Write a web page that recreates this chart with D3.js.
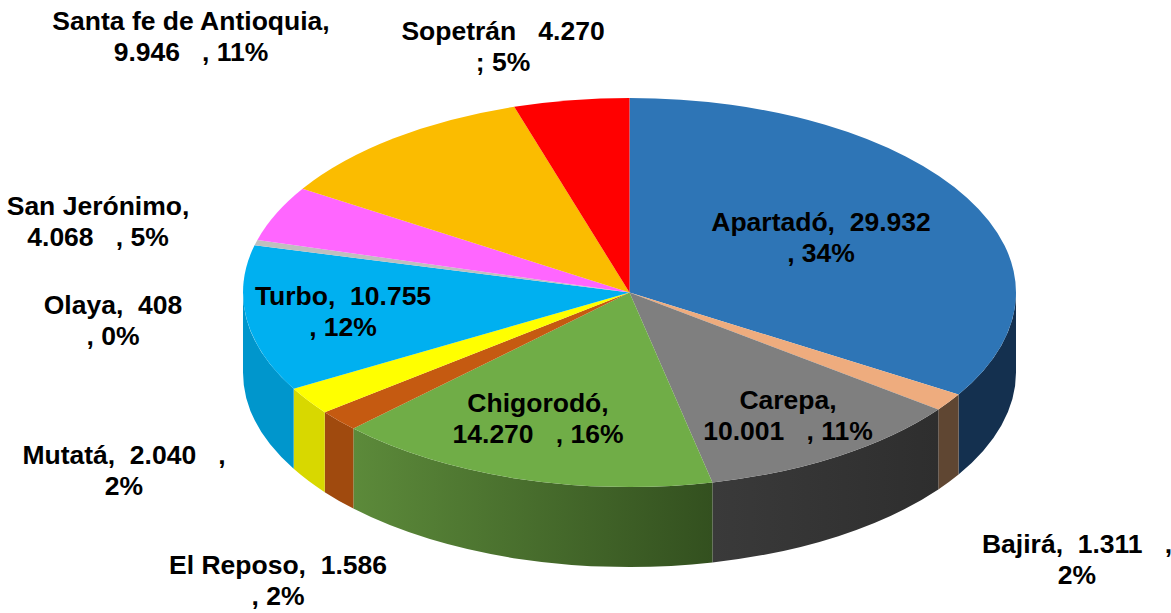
<!DOCTYPE html>
<html>
<head>
<meta charset="utf-8">
<script src="https://cdn.jsdelivr.net/npm/d3@7"></script>
<style>
  html, body { margin: 0; padding: 0; background: #fff; }
  text { font-family: "Liberation Sans", Arial, sans-serif; font-weight: bold; font-size: 26.5px; fill: #000; white-space: pre; text-anchor: middle; }
</style>
</head>
<body>
<div id="chart"></div>
<script>
// Data
var municipios = ["Apartadó", "Bajirá", "Carepa", "Chigorodó", "El Reposo", "Mutatá", "Turbo", "Olaya", "San Jerónimo", "Santa fe de Antioquia", "Sopetrán"];
var poblacion = [29932, 1311, 10001, 14270, 1586, 2040, 10755, 408, 4068, 9946, 4270];
var topColors = ["#2e75b6", "#eeac7e", "#7f7f7f", "#70ad47", "#c55a11", "#ffff00", "#00b0f0", "#bfbfbf", "#ff66ff", "#fbbc00", "#ff0000"];
// wall colours at the left and right end of each wall, on screen
var wallLeft = ["#14304f", "#5f4632", "#3a3a3a", "#5c8a3a", "#a04a0e", "#d8d800", "#0096cc", "#8a8a8a", "#b84ab8", "#b58800", "#b80000"];
var wallRight = ["#14304f", "#5f4632", "#2e2e2e", "#33501f", "#a04a0e", "#d8d800", "#0096cc", "#8a8a8a", "#b84ab8", "#b58800", "#b80000"];
var labelLines = [
  ["Apartadó,  29.932", ", 34%"],
  ["Bajirá,  1.311   ,", "2%"],
  ["Carepa,", "10.001   , 11%"],
  ["Chigorodó,", "14.270   , 16%"],
  ["El Reposo,  1.586", ", 2%"],
  ["Mutatá,  2.040   ,", "2%"],
  ["Turbo,  10.755", ", 12%"],
  ["Olaya,  408", ", 0%"],
  ["San Jerónimo,", "4.068   , 5%"],
  ["Santa fe de Antioquia,", "9.946   , 11%"],
  ["Sopetrán   4.270", "; 5%"]
];

// Layout
var svgWidth = 1171;
var svgHeight = 613;
var cx = 629.5, cy = 292.5, rx = 386.5, ry = 194.5, depth = 80;
var lineGap = 30.5;
var labelAnchors = [[821, 231], [1077, 553], [788, 409], [538, 412], [278, 574], [124, 464], [343, 305], [113, 314], [98, 215], [191, 30], [503, 40]];

var svg = d3.select("#chart").append("svg")
  .attr("width", svgWidth)
  .attr("height", svgHeight)
  .style("display", "block");

var arcs = d3.pie().sort(null)(poblacion);

function ptx(a) { return cx + rx * Math.sin(a); }
function pty(a) { return cy - ry * Math.cos(a); }

// Gradients for the side walls
var defs = svg.append("defs");
municipios.forEach(function (m, i) {
  var g = defs.append("linearGradient").attr("id", "wall" + i);
  g.append("stop").attr("offset", "0%").attr("stop-color", wallLeft[i]);
  g.append("stop").attr("offset", "100%").attr("stop-color", wallRight[i]);
});

// Side wall: only the front half of the ellipse shows
function wallPath(d) {
  var a0 = Math.max(d.startAngle, Math.PI / 2);
  var a1 = Math.min(d.endAngle, Math.PI * 1.5);
  if (a1 <= a0) return null;
  return "M" + ptx(a0) + "," + pty(a0) +
    "A" + rx + "," + ry + " 0 0 1 " + ptx(a1) + "," + pty(a1) +
    "L" + ptx(a1) + "," + (pty(a1) + depth) +
    "A" + rx + "," + ry + " 0 0 0 " + ptx(a0) + "," + (pty(a0) + depth) + "Z";
}

svg.append("g").selectAll("path")
  .data(arcs)
  .enter()
  .append("path")
  .attr("d", wallPath)
  .attr("fill", function (d, i) { return "url(#wall" + i + ")"; });

// Top face: plain d3 arcs squashed into an ellipse
var arcGen = d3.arc().innerRadius(0).outerRadius(rx);
svg.append("g")
  .attr("transform", "translate(" + cx + "," + cy + ") scale(1," + (ry / rx) + ")")
  .selectAll("path")
  .data(arcs)
  .enter()
  .append("path")
  .attr("d", arcGen)
  .attr("fill", function (d, i) { return topColors[i]; });

// Labels
var labels = svg.append("g").selectAll("text")
  .data(labelLines)
  .enter()
  .append("text")
  .attr("transform", function (d, i) { return "translate(" + labelAnchors[i][0] + "," + labelAnchors[i][1] + ")"; });

labels.selectAll("tspan")
  .data(function (d) { return d; })
  .enter()
  .append("tspan")
  .attr("x", 0)
  .attr("y", function (d, i) { return i * lineGap; })
  .text(function (d) { return d; });
</script>
</body>
</html>
